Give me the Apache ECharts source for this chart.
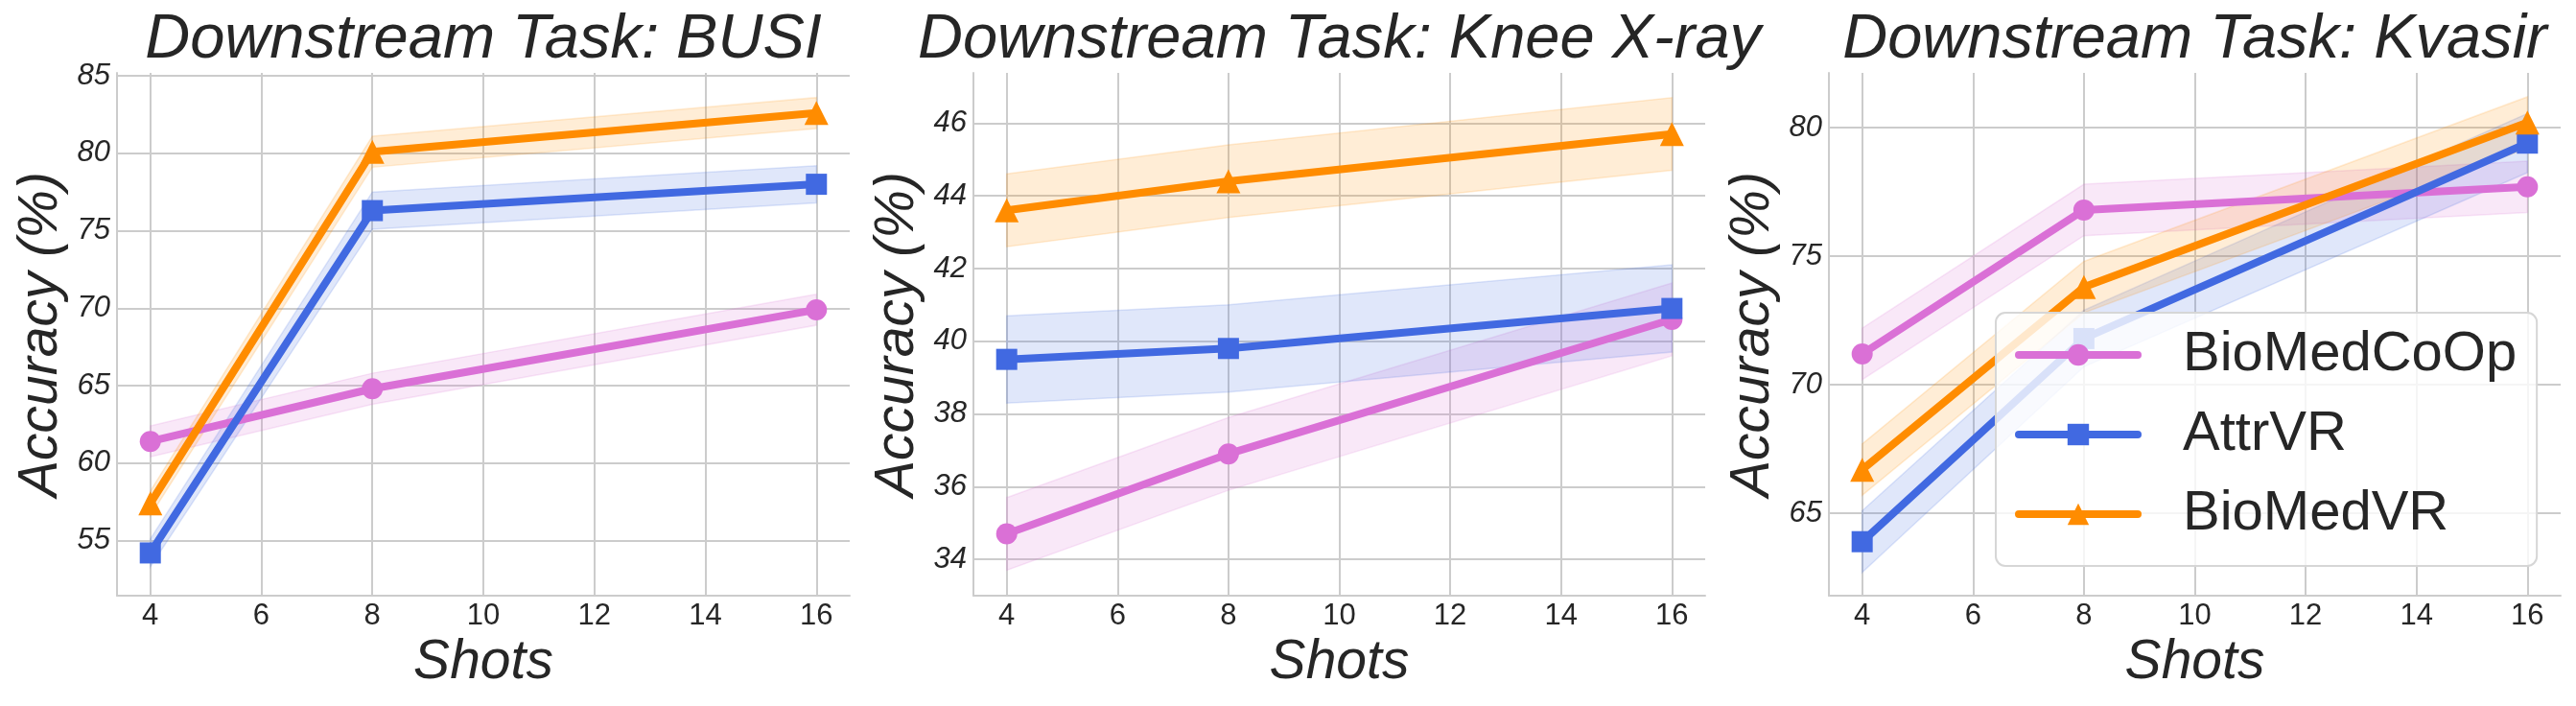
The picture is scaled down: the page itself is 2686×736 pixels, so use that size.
<!DOCTYPE html>
<html>
<head>
<meta charset="utf-8">
<script src="https://cdn.jsdelivr.net/npm/echarts@6/dist/echarts.min.js"></script>
<style>
  html, body { margin: 0; padding: 0; background: #fff; }
  #chart { width: 2686px; height: 736px; }
</style>
</head>
<body>
<div id="chart"></div>
<script>
// shots on the x axis
var shots = [4, 8, 16];
var methods = ['BioMedCoOp', 'AttrVR', 'BioMedVR'];

// BUSI
var busiCoOp = [61.4, 64.8, 69.9];
var busiAttr = [54.2, 76.3, 78.0];
var busiVR = [57.4, 80.1, 82.6];
var busiCoOpStd = [1.0, 1.0, 1.0];
var busiAttrStd = [0.9, 1.2, 1.2];
var busiVRStd = [0.8, 1.0, 1.0];

// Knee X-ray
var kneeCoOp = [34.7, 36.9, 40.6];
var kneeAttr = [39.5, 39.8, 40.9];
var kneeVR = [43.6, 44.4, 45.7];
var kneeCoOpStd = [1.0, 1.0, 1.0];
var kneeAttrStd = [1.2, 1.2, 1.2];
var kneeVRStd = [1.0, 1.0, 1.0];

// Kvasir
var kvasirCoOp = [71.2, 76.8, 77.7];
var kvasirAttr = [63.9, 71.8, 79.4];
var kvasirVR = [66.7, 73.8, 80.2];
var kvasirCoOpStd = [1.0, 1.0, 1.0];
var kvasirAttrStd = [1.2, 1.1, 1.15];
var kvasirVRStd = [1.0, 1.0, 1.0];

var xTicks = [4, 6, 8, 10, 12, 14, 16];
var busiTicks = [55, 60, 65, 70, 75, 80, 85];
var kneeTicks = [34, 36, 38, 40, 42, 44, 46];
var kvasirTicks = [65, 70, 75, 80];

var titles = ['Downstream Task: BUSI', 'Downstream Task: Knee X-ray', 'Downstream Task: Kvasir'];

var colors = ['#DA70D6', '#4169E1', '#FF8C00'];
var bandColors = ['rgba(218,112,214,0.16)', 'rgba(65,105,225,0.16)', 'rgba(255,140,0,0.16)'];
var symbols = ['circle', 'rect', 'triangle'];
var symbolSizes = [22, 22, 25];

var FONT = '"Liberation Sans", Arial, sans-serif';
var TXT = '#262626';
var GRIDC = '#cccccc';

// plot areas (px)
var grids = [
    { left: 122, top: 76, width: 764, height: 545 },
    { left: 1015, top: 76, width: 763, height: 545 },
    { left: 1907, top: 76, width: 763, height: 545 }
];
var yRanges = [[51.44, 85.19], [33.0, 47.38], [61.8, 82.13]];
var yTickSets = [busiTicks, kneeTicks, kvasirTicks];

var panels = [
    { mean: [busiCoOp, busiAttr, busiVR], std: [busiCoOpStd, busiAttrStd, busiVRStd] },
    { mean: [kneeCoOp, kneeAttr, kneeVR], std: [kneeCoOpStd, kneeAttrStd, kneeVRStd] },
    { mean: [kvasirCoOp, kvasirAttr, kvasirVR], std: [kvasirCoOpStd, kvasirAttrStd, kvasirVRStd] }
];

// shaded mean +/- std band, drawn through the axis scales
function bandSeries(g, m, mean, std) {
    return {
        type: 'custom',
        xAxisIndex: g,
        yAxisIndex: g,
        silent: true,
        z: 2,
        data: shots.map(function (x, i) { return [x, mean[i] - std[i], mean[i] + std[i]]; }),
        renderItem: function (params, api) {
            if (params.dataIndex !== 0) return null;
            var up = shots.map(function (x, i) { return api.coord([x, mean[i] + std[i]]); });
            var lo = shots.map(function (x, i) { return api.coord([x, mean[i] - std[i]]); }).reverse();
            return {
                type: 'polygon',
                shape: { points: up.concat(lo) },
                style: { fill: bandColors[m], stroke: bandColors[m], lineWidth: 1.5 }
            };
        }
    };
}

var series = [];
panels.forEach(function (p, g) {
    for (var m = 0; m < 3; m++) {
        series.push(bandSeries(g, m, p.mean[m], p.std[m]));
        series.push({
            name: methods[m],
            type: 'line',
            xAxisIndex: g,
            yAxisIndex: g,
            z: 3,
            data: shots.map(function (x, i) { return [x, p.mean[m][i]]; }),
            symbol: symbols[m],
            symbolSize: symbolSizes[m],
            showSymbol: true,
            lineStyle: { color: colors[m], width: 8, join: 'round' },
            itemStyle: { color: colors[m] }
        });
    }
});

var myChart = echarts.init(document.getElementById('chart'), null, { renderer: 'canvas' });

var option = {
    animation: false,
    backgroundColor: '#ffffff',
    textStyle: { fontFamily: FONT },
    title: titles.map(function (t, i) {
        return {
            text: t,
            left: grids[i].left + grids[i].width / 2,
            top: 9,
            padding: 0,
            textAlign: 'center',
            textStyle: { fontFamily: FONT, fontSize: 65, fontStyle: 'italic', fontWeight: 'normal', color: TXT }
        };
    }),
    grid: grids,
    xAxis: grids.map(function (gr, i) {
        return {
            type: 'value',
            gridIndex: i,
            min: 3.4,
            max: 16.6,
            name: 'Shots',
            nameLocation: 'middle',
            nameGap: 37,
            nameTextStyle: { fontFamily: FONT, fontSize: 57, fontStyle: 'italic', color: TXT },
            axisLine: { show: true, lineStyle: { color: GRIDC, width: 2 } },
            axisTick: { show: false, customValues: xTicks },
            axisLabel: { customValues: xTicks, fontFamily: FONT, fontSize: 31, color: TXT, margin: 6 },
            splitLine: { show: true, lineStyle: { color: GRIDC, width: 2 } }
        };
    }),
    yAxis: grids.map(function (gr, i) {
        return {
            type: 'value',
            gridIndex: i,
            min: yRanges[i][0],
            max: yRanges[i][1],
            name: 'Accuracy (%)',
            nameLocation: 'middle',
            nameGap: 50,
            nameTextStyle: { fontFamily: FONT, fontSize: 57, fontStyle: 'italic', color: TXT },
            axisLine: { show: true, lineStyle: { color: GRIDC, width: 2 } },
            axisTick: { show: false, customValues: yTickSets[i] },
            axisLabel: { customValues: yTickSets[i], fontFamily: FONT, fontSize: 31, fontStyle: 'italic', color: TXT, margin: 7 },
            splitLine: { show: true, lineStyle: { color: GRIDC, width: 2 } }
        };
    }),
    legend: {
        data: methods,
        orient: 'vertical',
        left: 2081,
        top: 326,
        padding: [15, 21, 25, 20],
        itemWidth: 124,
        itemHeight: 28,
        itemGap: 25,
        backgroundColor: 'rgba(255,255,255,0.8)',
        borderColor: '#d6d6d6',
        borderWidth: 2,
        borderRadius: 10,
        lineStyle: { width: 8, cap: 'round' },
        textStyle: { fontFamily: FONT, fontSize: 58, lineHeight: 58, color: TXT, padding: [0, 0, 0, 42] }
    },
    series: series
};

myChart.setOption(option);
</script>
</body>
</html>
